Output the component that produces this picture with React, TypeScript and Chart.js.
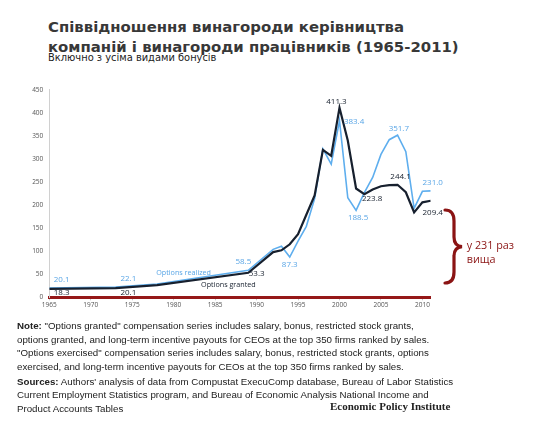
import React, { useEffect, useRef } from "react";
import { Chart, registerables } from "chart.js";

Chart.register(...registerables);

// ---- data ----
const years = [1965, 1973, 1978, 1989, 1992, 1993, 1994, 1995, 1996, 1997, 1998, 1999, 2000, 2001, 2002, 2003, 2004, 2005, 2006, 2007, 2008, 2009, 2010, 2011];
const optionsGranted = [18.3, 20.1, 26.5, 53.3, 98, 102, 115, 137, 179, 221, 320, 307, 411.3, 340, 236, 223.8, 234, 241, 243.5, 244.1, 228, 184, 206, 209.4];
const optionsRealized = [20.1, 22.1, 29.0, 58.5, 104, 111, 87.3, 122, 154, 214, 322, 289, 383.4, 216, 188.5, 227, 260, 310, 342, 351.7, 316, 193, 230, 231.0];
const yTickValues = [0, 50, 100, 150, 200, 250, 300, 350, 400, 450];
const xTickValues = [1965, 1970, 1975, 1980, 1985, 1990, 1995, 2000, 2005, 2010];
const grantedLabelYears = [1965, 1973, 1989, 2000, 2003, 2007, 2011];
const realizedLabelYears = [1965, 1973, 1989, 1994, 2000, 2002, 2007, 2011];

const seriesNames = ["Options granted", "Options realized"];

// label offsets (style only, px)
const grantedOffsets: Record<number, [number, number]> = {
  1965: [12.4, 4],
  1973: [12.7, 4.6],
  1989: [8.4, 1],
  2000: [-3, -6],
  2003: [7.8, 5],
  2007: [3, -8],
  2011: [2, 11.7],
};
const realizedOffsets: Record<number, [number, number]> = {
  1965: [12.4, -8],
  1973: [12.7, -8],
  1989: [-5, -9],
  1994: [0, 8],
  2000: [14.6, 1],
  2002: [2, 7],
  2007: [1.3, -6],
  2011: [2, -8],
};

const BLACK = "#17202e";
const BLUE = "#5eaeee";
const BLUE_TEXT = "#5aa6e6";
const RED = "#951818";

const labelPlugin = {
  id: "valueLabels",
  afterDatasetsDraw(chart: any) {
    const ctx = chart.ctx as CanvasRenderingContext2D;
    const xs = chart.scales.x;
    const ys = chart.scales.y;
    ctx.save();
    ctx.textAlign = "center";
    ctx.textBaseline = "middle";
    ctx.font = "8px 'Open Sans'";
    const draw = (dsIndex: number, labelYears: number[], offsets: Record<number, [number, number]>, color: string) => {
      const meta = chart.getDatasetMeta(dsIndex);
      const values = chart.data.datasets[dsIndex].data as { x: number; y: number }[];
      ctx.fillStyle = color;
      labelYears.forEach((yr) => {
        const i = values.findIndex((p) => p.x === yr);
        if (i < 0) return;
        const el = meta.data[i];
        const [dx, dy] = offsets[yr] || [0, 0];
        ctx.fillText(values[i].y.toFixed(1), el.x + dx, el.y + dy);
      });
    };
    draw(0, grantedLabelYears, grantedOffsets, BLACK);
    draw(1, realizedLabelYears, realizedOffsets, BLUE_TEXT);

    // series name labels
    ctx.font = "7.2px 'Open Sans'";
    ctx.fillStyle = BLUE_TEXT;
    ctx.fillText(seriesNames[1], xs.getPixelForValue(1981.2), ys.getPixelForValue(53.2));
    ctx.fillStyle = BLACK;
    ctx.fillText(seriesNames[0], xs.getPixelForValue(1986.6), ys.getPixelForValue(27.7));
    ctx.restore();
  },
};

function ChartCanvas() {
  const ref = useRef<HTMLCanvasElement | null>(null);
  useEffect(() => {
    if (!ref.current) return;
    const chart = new Chart(ref.current, {
      type: "line",
      data: {
        datasets: [
          {
            label: seriesNames[0],
            data: years.map((x, i) => ({ x, y: optionsGranted[i] })),
            borderColor: BLACK,
            borderWidth: 2.2,
            pointRadius: 0,
            tension: 0,
            order: 1,
          },
          {
            label: seriesNames[1],
            data: years.map((x, i) => ({ x, y: optionsRealized[i] })),
            borderColor: BLUE,
            borderWidth: 1.6,
            pointRadius: 0,
            tension: 0,
            order: 2,
          },
        ],
      },
      options: {
        animation: false,
        responsive: true,
        maintainAspectRatio: false,
        layout: { padding: { left: 0, right: 108.3, top: 6, bottom: 0 } },
        plugins: { legend: { display: false }, tooltip: { enabled: false } },
        scales: {
          x: {
            type: "linear",
            min: 1965,
            max: 2011,
            afterBuildTicks: (s: any) => {
              s.ticks = xTickValues.map((v) => ({ value: v }));
            },
            afterFit: (s: any) => {
              s.height = 12.7;
            },
            grid: { drawOnChartArea: false, drawTicks: true, tickLength: 3, tickColor: "#c8c8c8" },
            border: { display: true, color: RED, width: 3 },
            ticks: {
              autoSkip: false,
              maxRotation: 0,
              padding: 1,
              color: "#555",
              font: { family: "'Open Sans'", size: 6.5 },
              callback: (v: any) => String(v),
            },
          },
          y: {
            min: 0,
            max: 450,
            afterBuildTicks: (s: any) => {
              s.ticks = yTickValues.map((v) => ({ value: v }));
            },
            afterFit: (s: any) => {
              s.width = 49.3;
            },
            grid: { display: false, drawTicks: false },
            border: { display: true, color: "#d0d0d0", width: 1 },
            ticks: {
              padding: 6,
              color: "#555",
              font: { family: "'Open Sans'", size: 6.5 },
            },
          },
        },
      },
      plugins: [labelPlugin],
    } as any);
    return () => chart.destroy();
  }, []);
  return <canvas ref={ref} />;
}

export default function App() {
  const noteStyle: React.CSSProperties = {
    position: "absolute",
    left: 17,
    fontFamily: "'Liberation Sans', Arial, sans-serif",
    fontSize: 9.72,
    lineHeight: "13.5px",
    color: "#222",
    whiteSpace: "nowrap",
  };
  return (
    <div style={{ position: "absolute", left: 0, top: 0, width: 539, height: 436, background: "#fff", overflow: "hidden" }}>
      <div
        style={{
          position: "absolute",
          left: 48,
          top: 16.5,
          fontFamily: "'DejaVu Sans', sans-serif",
          fontWeight: 700,
          fontSize: 14.9,
          lineHeight: "20px",
          color: "#383838",
          whiteSpace: "nowrap",
        }}
      >
        Співвідношення винагороди керівництва
        <br />
        компаній і винагороди працівників (1965-2011)
      </div>
      <div
        style={{
          position: "absolute",
          left: 48,
          top: 51.5,
          fontFamily: "'DejaVu Sans', sans-serif",
          fontSize: 9.9,
          lineHeight: "11px",
          color: "#222",
          whiteSpace: "nowrap",
        }}
      >
        Включно з усіма видами бонусів
      </div>
      <div style={{ position: "absolute", left: 0, top: 80, width: 539, height: 230 }}>
        <ChartCanvas />
      </div>
      <svg style={{ position: "absolute", left: 0, top: 0 }} width={539} height={436}>
        <path
          d="M 445 210 Q 454 210 454 221 L 454 237 Q 454 246 462 246.7 Q 454 247.5 454 256 L 454 272 Q 454 283 445 283"
          fill="none"
          stroke="#8b1414"
          strokeWidth={3.2}
          strokeLinecap="round"
        />
      </svg>
      <div
        style={{
          position: "absolute",
          left: 466.7,
          top: 238.3,
          fontFamily: "'Open Sans', sans-serif",
          fontSize: 10.8,
          lineHeight: "13.3px",
          color: "#8b1414",
          whiteSpace: "nowrap",
        }}
      >
        у 231 раз
        <br />
        вища
      </div>
      <div style={{ ...noteStyle, top: 319.2 }}>
        <b>Note:</b> "Options granted" compensation series includes salary, bonus, restricted stock grants,
        <br />
        options granted, and long-term incentive payouts for CEOs at the top 350 firms ranked by sales.
        <br />
        "Options exercised" compensation series includes salary, bonus, restricted stock grants, options
        <br />
        exercised, and long-term incentive payouts for CEOs at the top 350 firms ranked by sales.
      </div>
      <div style={{ ...noteStyle, top: 374.9 }}>
        <b>Sources:</b> Authors' analysis of data from Compustat ExecuComp database, Bureau of Labor Statistics
        <br />
        Current Employment Statistics program, and Bureau of Economic Analysis National Income and
        <br />
        Product Accounts Tables
      </div>
      <div
        style={{
          position: "absolute",
          left: 330,
          top: 400,
          fontFamily: "'Liberation Serif', serif",
          fontWeight: 700,
          fontSize: 11,
          lineHeight: "13px",
          color: "#222",
          whiteSpace: "nowrap",
        }}
      >
        Economic Policy Institute
      </div>
    </div>
  );
}
